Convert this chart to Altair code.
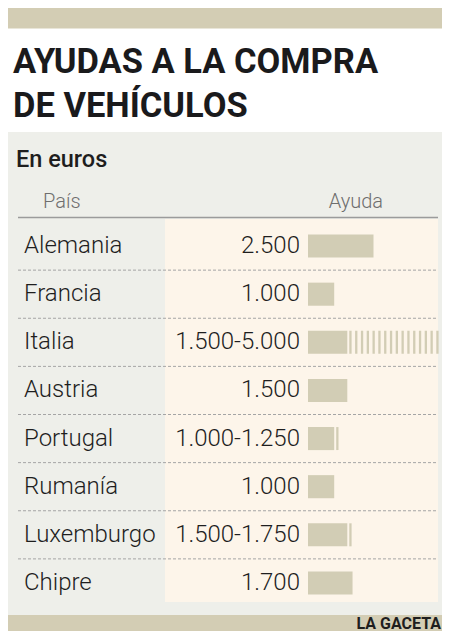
import altair as alt
import pandas as pd

# ---- data ----
countries = ["Alemania", "Francia", "Italia", "Austria", "Portugal", "Rumanía", "Luxemburgo", "Chipre"]
aid_low = [2500, 1000, 1500, 1500, 1000, 1000, 1500, 1700]
aid_high = [2500, 1000, 5000, 1500, 1250, 1000, 1750, 1700]
aid_labels = ["2.500", "1.000", "1.500-5.000", "1.500", "1.000-1.250", "1.000", "1.500-1.750", "1.700"]

title_lines = ["AYUDAS A LA COMPRA", "DE VEHÍCULOS"]
subtitle = "En euros"
col_headers = ["País", "Ayuda"]
source = "LA GACETA"

df = pd.DataFrame({"country": countries, "low": aid_low, "high": aid_high, "label": aid_labels})
df["last"] = [i == len(countries) - 1 for i in range(len(countries))]

# ---- layout helpers ----
OFF = 8  # page margin
W, H = 450 - 2 * OFF, 643 - 2 * OFF - 4


def px(v):
    return v - OFF


TAN = "#D3CDB4"
BAR = "#D2CDB5"
GRAY_BG = "#EEEFEA"
CREAM = "#FDF5EA"
INK = "#1E1E1E"
SANS = "Roboto"

yscale = alt.Scale(domain=countries, range=[px(222), px(607)], paddingInner=0.52, paddingOuter=0.26)
xscale = alt.Scale(domain=[0, 5000], range=[px(308), px(439)])
Y = alt.Y("country:N", scale=yscale, axis=None, sort=None)
STEP = (607 - 222) / len(countries)

one = alt.Data(values=[{"k": 0}])


def rect(x1, x2, y1, y2, color):
    return alt.Chart(one).mark_rect(color=color).encode(
        x=alt.value(px(x1)), x2=alt.value(px(x2)), y=alt.value(px(y1)), y2=alt.value(px(y2))
    )


def txt(s, x, y, **kw):
    return alt.Chart(alt.Data(values=[{"t": s}])).mark_text(baseline="alphabetic", **kw).encode(
        text="t:N", x=alt.value(px(x)), y=alt.value(px(y))
    )


bg_layers = [
    rect(0, 450, 0, 28.5, TAN),
    rect(0, 450, 132, 615, GRAY_BG),
    rect(0, 450, 615, 643, TAN),
    rect(165, 438, 219, 602, CREAM),
]

header_line = alt.Chart(one).mark_rule(color="#9B9B9B", strokeWidth=1.5).encode(
    x=alt.value(px(18)), x2=alt.value(px(438)), y=alt.value(px(217.5))
)

base = alt.Chart(df)

separators = base.transform_filter("!datum.last").mark_rule(
    color="#A5A5A5", strokeWidth=1, strokeDash=[3, 2], yOffset=STEP / 2
).encode(y=Y, x=alt.value(px(18)), x2=alt.value(px(438)))

bars = base.mark_bar(color=BAR).encode(
    x=alt.X("low:Q", scale=xscale, axis=None),
    y=Y,
)

stripes = base.transform_filter("datum.high > datum.low").mark_rule(
    color=BAR, strokeWidth=23, strokeDash=[2.3, 3.5], strokeDashOffset=3.8, strokeCap="butt"
).encode(
    x=alt.X("low:Q", scale=xscale, axis=None),
    x2="high:Q",
    y=Y,
)

country_text = base.mark_text(align="left", baseline="middle", font=SANS, fontSize=24, fontWeight=300, color=INK).encode(
    y=Y, x=alt.value(px(24)), text="country:N"
)

value_text = base.mark_text(align="right", baseline="middle", font=SANS, fontSize=24, fontWeight=300, color=INK).encode(
    y=Y, x=alt.value(px(300)), text="label:N"
)

texts = [
    txt(title_lines[0], 13, 73, align="left", font=SANS, fontSize=34.5, fontWeight="bold", color="#1A1A1C"),
    txt(title_lines[1], 13, 117, align="left", font=SANS, fontSize=34.5, fontWeight="bold", color="#1A1A1C"),
    txt(subtitle, 16, 167, align="left", font=SANS, fontSize=23.5, fontWeight=500, color=INK),
    txt(col_headers[0], 43, 208, align="left", font=SANS, fontSize=20, fontWeight=300, color="#6E6E6E"),
    txt(col_headers[1], 383, 208, align="right", font=SANS, fontSize=20, fontWeight=300, color="#6E6E6E"),
    txt(source, 441, 628.5, align="right", font=SANS, fontSize=16, fontWeight="bold", color=INK),
]

chart = alt.layer(
    *bg_layers, header_line, separators, bars, stripes, country_text, value_text, *texts
).properties(
    width=W, height=H, padding=0, autosize=alt.AutoSizeParams(type="none"), background="white"
).configure_view(stroke=None)

chart.save("out.html", embed_options={"renderer": "svg", "actions": False})
